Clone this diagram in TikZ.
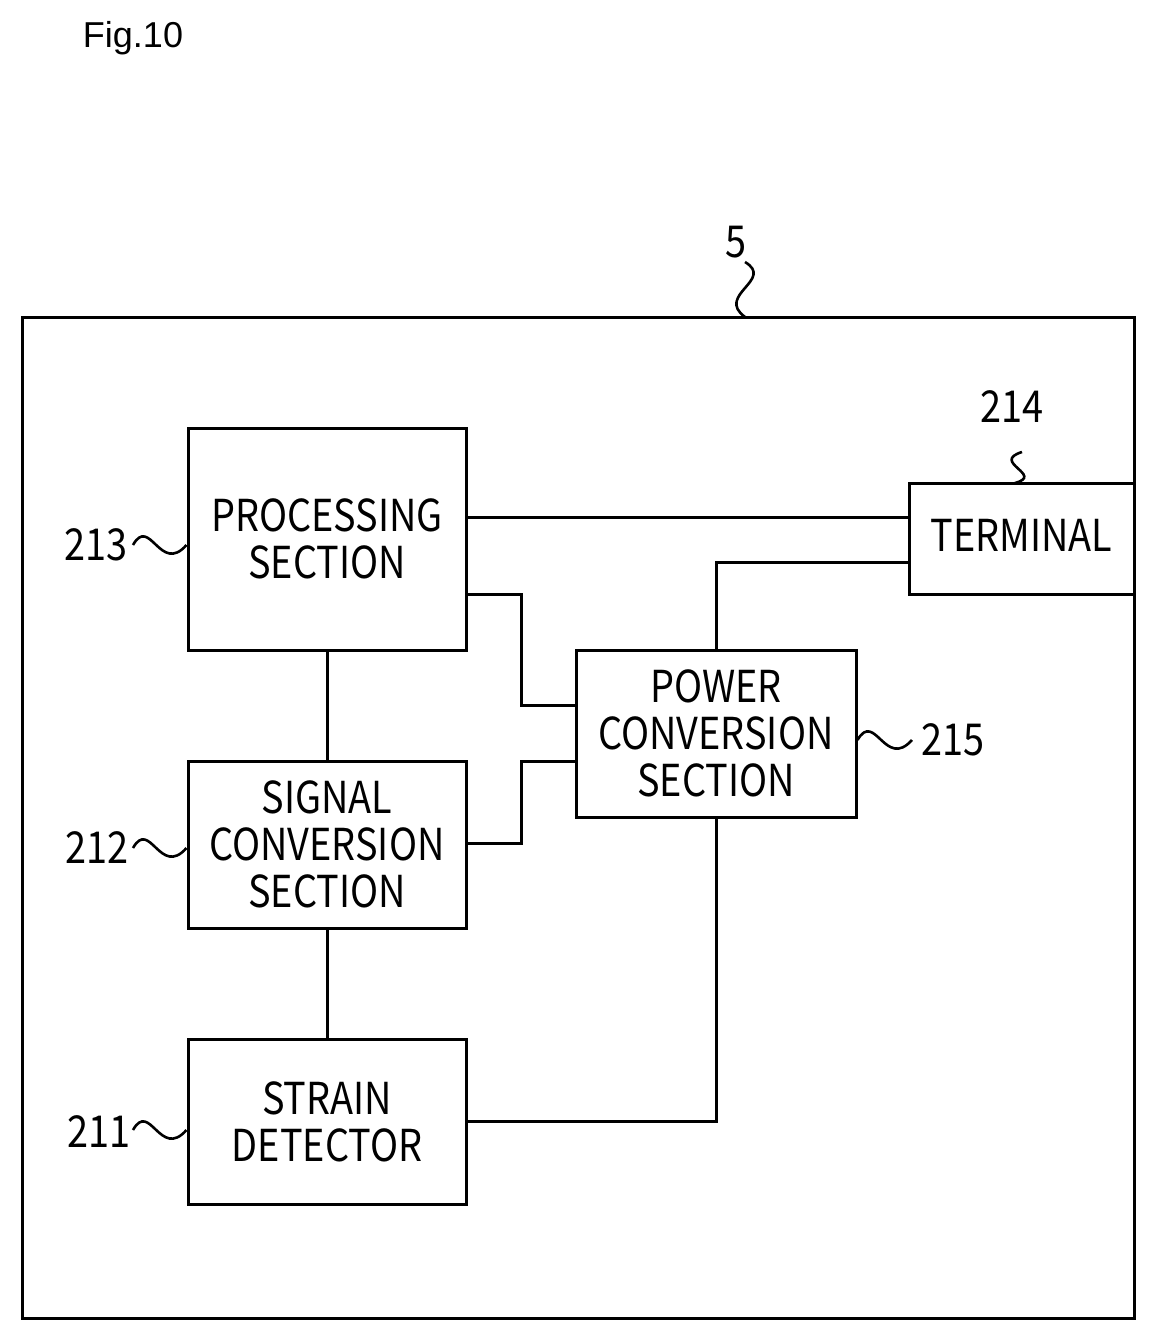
\documentclass[tikz,border=0pt]{standalone}
\usepackage{fontspec}
\newfontfamily\lab[FakeStretch=0.86]{Noto Sans CJK JP}
\setmainfont{Liberation Sans}
\begin{document}
\begin{tikzpicture}[x=0.5pt,y=-0.5pt,line width=1.5pt,
  blk/.style={draw,line width=1.5pt,inner sep=0,align=center,font=\lab\fontsize{22}{23.5}\selectfont},
  num/.style={font=\lab\fontsize{22}{23}\selectfont,inner sep=0}]
\useasboundingbox (0,0) rectangle (1156,1340);
\node[font=\fontsize{18}{21}\selectfont] (fig) at (133,38) {Fig.10};
\draw (22,317) rectangle (1134,1318);
\coordinate (outer) at (745,317);
\node[blk,minimum width=139pt,minimum height=111pt] (proc) at (327,539) {PROCESSING\\SECTION};
\node[blk,minimum width=139pt,minimum height=83.5pt] (sig) at (327,844.5) {SIGNAL\\CONVERSION\\SECTION};
\node[blk,minimum width=139pt,minimum height=82.5pt] (str) at (327,1121.5) {STRAIN\\DETECTOR};
\node[blk,minimum width=140pt,minimum height=83.5pt] (pow) at (716,733.5) {POWER\\CONVERSION\\SECTION};
\node[blk,minimum width=112.5pt,minimum height=55.5pt,text depth=3pt] (term) at (1021.5,538.5) {TERMINAL};
\draw (proc.east |- 0,517) -- (term.west |- 0,517);
\draw (term.west |- 0,562) -| (pow.north);
\draw (proc.east |- 0,594) -| (521,705) -- (pow.west |- 0,705);
\draw (sig.east |- 0,843) -| (521,761) -- (pow.west |- 0,761);
\draw (pow.south) |- (str.east);
\draw (proc.south) -- (sig.north);
\draw (sig.south) -- (str.north);
\node[num] (n5) at (736,242) {5};
\node[num] (n214) at (1012,407) {214};
\node[num] (n213) at (96,545) {213};
\node[num] (n212) at (97,848) {212};
\node[num] (n211) at (99,1132) {211};
\node[num] (n215) at (953,740) {215};
\draw[line width=1.3pt] (745,262) .. controls (775,280) and (715,295) .. (outer);
\draw[line width=1.3pt] (1022,452) .. controls (990,462) and (1045,475) .. (1015,483);
\draw[line width=1.3pt] (133,545) .. controls (150,515) and (160,575) .. (proc.west |- 0,545);
\draw[line width=1.3pt] (133,848) .. controls (150,818) and (160,878) .. (sig.west |- 0,848);
\draw[line width=1.3pt] (133,1130) .. controls (150,1100) and (160,1160) .. (str.west |- 0,1130);
\draw[line width=1.3pt] (pow.east |- 0,740) .. controls (875,710) and (885,770) .. (912,740);
\end{tikzpicture}
\end{document}
